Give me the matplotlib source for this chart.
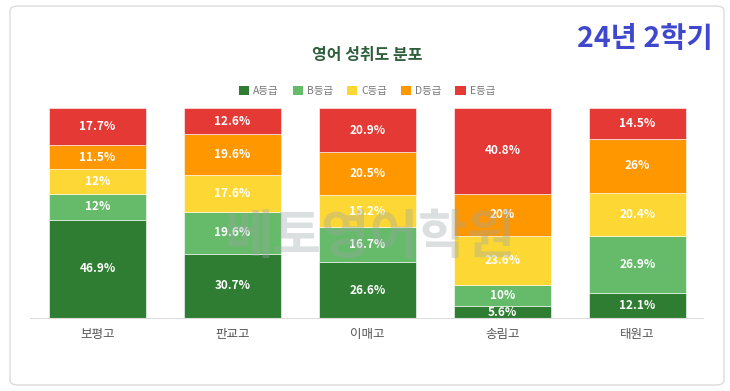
import matplotlib.pyplot as plt
from matplotlib.patches import FancyBboxPatch, Patch

plt.rcParams['font.family'] = ['Noto Sans CJK KR', 'DejaVu Sans']

schools = ['보평고', '판교고', '이매고', '송림고', '태원고']
grades = ['A등급', 'B등급', 'C등급', 'D등급', 'E등급']
grade_a = [46.9, 30.7, 26.6, 5.6, 12.1]
grade_b = [12, 19.6, 16.7, 10, 26.9]
grade_c = [12, 17.6, 15.2, 23.6, 20.4]
grade_d = [11.5, 19.6, 20.5, 20, 26]
grade_e = [17.7, 12.6, 20.9, 40.8, 14.5]
colors = ['#2e7d32', '#66bb6a', '#fdd835', '#ff9800', '#e53935']

W, H = 730, 391
fig = plt.figure(figsize=(W / 100, H / 100), dpi=100)

# 카드 테두리 (축 뒤에 그림)
card = FancyBboxPatch((10 / W, 6 / H), 714 / W, 379 / H,
                      boxstyle='round,pad=0,rounding_size=0.012',
                      transform=fig.transFigure, facecolor='white',
                      edgecolor='#dcdcdc', linewidth=1.0, zorder=-5)
fig.patches.append(card)

ax = fig.add_axes([30 / W, 1 - 318 / H, 673 / W, 210 / H])
ax.set_facecolor('none')

x = range(len(schools))
series = [grade_a, grade_b, grade_c, grade_d, grade_e]
bottom = [0] * len(schools)
for vals, col in zip(series, colors):
    bars = ax.bar(x, vals, bottom=bottom, width=0.72, color=col,
                  edgecolor='#ffffff', linewidth=0.4, clip_on=False)
    for b, v, b0 in zip(bars, vals, bottom):
        ax.text(b.get_x() + b.get_width() / 2, b0 + v / 2, f'{v:g}%',
                ha='center', va='center', color='white', fontsize=8.5,
                fontweight='bold')
    bottom = [p + q for p, q in zip(bottom, vals)]

ax.set_xlim(-0.5, 4.485)
ax.set_ylim(0, 100)
ax.set_yticks([])
ax.set_xticks(list(x))
ax.set_xticklabels(schools, color='#555555', fontsize=9)
ax.tick_params(axis='x', length=0, pad=7)
for s in ['top', 'right', 'left']:
    ax.spines[s].set_visible(False)
ax.spines['bottom'].set_color('#dddddd')

# 워터마크
fig.text(370 / W, 1 - 238 / H, '베토영어학원', ha='center', va='center',
         fontsize=38, fontweight='bold', color='#9aa6a6', alpha=0.35,
         zorder=10)

fig.text(367 / W, 1 - 55 / H, '영어 성취도 분포', ha='center', va='center',
         fontsize=11.5, fontweight='bold', color='#2e5e3a')
fig.text(713 / W, 1 - 39 / H, '24년 2학기', ha='right', va='center',
         fontsize=20.5, fontweight='bold', color='#3f48cc')

handles = [Patch(facecolor=c, edgecolor='none') for c in colors]
fig.legend(handles, grades, loc='center', bbox_to_anchor=(367 / W, 1 - 91 / H),
           ncol=5, frameon=False, fontsize=7.5, labelcolor='#777777',
           handlelength=1.0, handleheight=1.0, handletextpad=0.4,
           columnspacing=1.3)

fig.savefig('out.png', dpi=100)
